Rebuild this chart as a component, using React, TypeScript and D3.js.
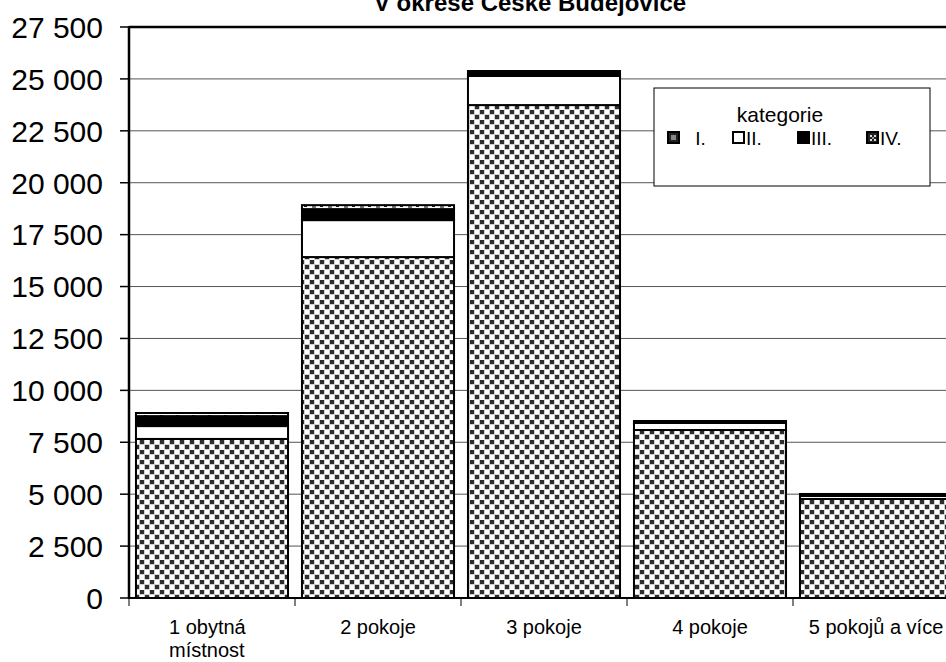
import React from "react";
import * as d3 from "d3";

const categories = ["1 obytná|místnost", "2 pokoje", "3 pokoje", "4 pokoje", "5 pokojů a více"];
const seriesNames = ["I.", "II.", "III.", "IV."];
const catI = [7660, 16420, 23740, 8090, 4770];
const catII = [620, 1780, 1400, 340, 145];
const catIII = [480, 530, 240, 95, 95];
const catIV = [150, 190, 0, 0, 0];
const yTicks = [0, 2500, 5000, 7500, 10000, 12500, 15000, 17500, 20000, 22500, 25000, 27500];
const title = "V okrese České Budějovice";
const legendTitle = "kategorie";

const W = 946;
const H = 662;
const left = 129;
const top = 27;
const bottom = 598;
const step = 166;

const fmt = (v: number) => {
  const s = String(v);
  if (s.length <= 3) return s;
  return s.slice(0, s.length - 3) + "\u00a0" + s.slice(s.length - 3);
};

export default function App() {
  const x = d3
    .scaleBand<string>()
    .domain(categories)
    .range([left, left + step * categories.length])
    .paddingInner(0.084)
    .paddingOuter(0.042);
  const y = d3.scaleLinear().domain([0, 27500]).range([bottom, top]);

  const rows = categories.map((c, i) => ({
    cat: c,
    I: catI[i],
    II: catII[i],
    III: catIII[i],
    IV: catIV[i],
  }));
  const stack = d3.stack<any>().keys(["I", "II", "III", "IV"])(rows);
  const fills = ["url(#patI)", "#ffffff", "#000000", "url(#patIV)"];

  const font = "'Liberation Sans', Arial, sans-serif";
  const legendItems = [
    { sx: 668, lx: 690, fill: "url(#patLegI)" },
    { sx: 733, lx: 746, fill: "#ffffff" },
    { sx: 798, lx: 811, fill: "#000000" },
    { sx: 867, lx: 880, fill: "url(#patLegIV)" },
  ];

  return (
    <svg width={W} height={H} style={{ position: "absolute", left: 0, top: 0 }}>
      <defs>
        <pattern id="patI" width={10} height={10} patternUnits="userSpaceOnUse">
          <rect width={10} height={10} fill="#ffffff" />
          <rect x={-0.5} y={-0.5} width={5} height={5} fill="#a0a0a0" />
          <rect x={0} y={0} width={4} height={4} fill="#2e2e2e" />
          <rect x={4.5} y={4.5} width={5} height={5} fill="#a0a0a0" />
          <rect x={5} y={5} width={4} height={4} fill="#2e2e2e" />
          <rect x={9.5} y={-0.5} width={1} height={5} fill="#a0a0a0" />
        </pattern>
        <pattern id="patIV" width={16} height={6} patternUnits="userSpaceOnUse">
          <rect width={16} height={6} fill="#ffffff" />
          <rect x={0} y={1} width={3} height={2} fill="#222" />
          <rect x={8} y={2} width={4} height={2} fill="#777" />
        </pattern>
        <pattern id="patLegI" width={12} height={12} patternUnits="userSpaceOnUse" x={668} y={132}>
          <rect width={12} height={12} fill="#222" />
          <rect x={3} y={3} width={5} height={5} fill="#888" />
        </pattern>
        <pattern id="patLegIV" width={12} height={12} patternUnits="userSpaceOnUse" x={867} y={132}>
          <rect width={12} height={12} fill="#222" />
          <rect x={3} y={3} width={2} height={2} fill="#ddd" />
          <rect x={7} y={3} width={2} height={2} fill="#ddd" />
          <rect x={5} y={5} width={2} height={2} fill="#999" />
          <rect x={3} y={7} width={2} height={2} fill="#ddd" />
          <rect x={7} y={7} width={2} height={2} fill="#ddd" />
        </pattern>
      </defs>
      <rect width={W} height={H} fill="#ffffff" />

      {/* gridlines */}
      {yTicks.slice(1).map((t) => (
        <line key={"g" + t} x1={left} x2={W} y1={y(t)} y2={y(t)} stroke="#555" strokeWidth={1} />
      ))}

      {/* bars */}
      {stack.map((layer, si) =>
        layer.map((d, i) => {
          const h = y(d[0]) - y(d[1]);
          if (h <= 0) return null;
          return (
            <rect
              key={si + "-" + i}
              x={x(categories[i])!}
              y={y(d[1])}
              width={x.bandwidth()}
              height={h}
              fill={fills[si]}
              stroke="#000"
              strokeWidth={2}
            />
          );
        })
      )}

      {/* plot top border */}
      <line x1={left} x2={W} y1={top} y2={top} stroke="#000" strokeWidth={2.5} />
      {/* y axis */}
      <line x1={left} x2={left} y1={top - 1} y2={bottom + 1} stroke="#000" strokeWidth={2.5} />
      {yTicks.map((t) => (
        <g key={"t" + t}>
          <line x1={left - 9} x2={left} y1={y(t)} y2={y(t)} stroke="#000" strokeWidth={1.5} />
          <text
            x={103}
            y={y(t)}
            dy="0.36em"
            textAnchor="end"
            fontFamily={font}
            fontSize={30}
            fill="#000"
          >
            {fmt(t)}
          </text>
        </g>
      ))}

      {/* x axis */}
      <line x1={left} x2={W} y1={bottom} y2={bottom} stroke="#000" strokeWidth={2} />
      {d3.range(categories.length + 1).map((i) => (
        <line
          key={"xt" + i}
          x1={left + i * step}
          x2={left + i * step}
          y1={bottom}
          y2={bottom + 8}
          stroke="#000"
          strokeWidth={1}
        />
      ))}
      {categories.map((c) => {
        const cx = x(c)! + x.bandwidth() / 2;
        const lines = c.split("|");
        if (lines.length > 1) {
          const sx = cx - 43;
          return (
            <text key={"xl" + c} x={sx} y={634} textAnchor="start" fontFamily={font} fontSize={20} fill="#000">
              {lines.map((ln, k) => (
                <tspan key={k} x={sx} dy={k === 0 ? 0 : 23}>
                  {ln}
                </tspan>
              ))}
            </text>
          );
        }
        return (
          <text key={"xl" + c} x={cx} y={634} textAnchor="middle" fontFamily={font} fontSize={20} fill="#000">
            {c}
          </text>
        );
      })}

      {/* title */}
      <text x={530} y={11} textAnchor="middle" fontFamily={font} fontWeight="bold" fontSize={24} fill="#000">
        {title}
      </text>

      {/* legend */}
      <rect x={654} y={88} width={276} height={98} fill="#fff" stroke="#000" strokeWidth={1} />
      <text x={780} y={122} textAnchor="middle" fontFamily={font} fontSize={21} fill="#000">
        {legendTitle}
      </text>
      {legendItems.map((it, i) => (
        <g key={"lg" + i}>
          <rect x={it.sx} y={132} width={11} height={11} fill={it.fill} stroke="#000" strokeWidth={2} />
          <text x={it.lx} y={138} dy="0.36em" fontFamily={font} fontSize={19} fill="#000">
            {(i === 0 ? "\u00a0" : "") + seriesNames[i]}
          </text>
        </g>
      ))}
    </svg>
  );
}
